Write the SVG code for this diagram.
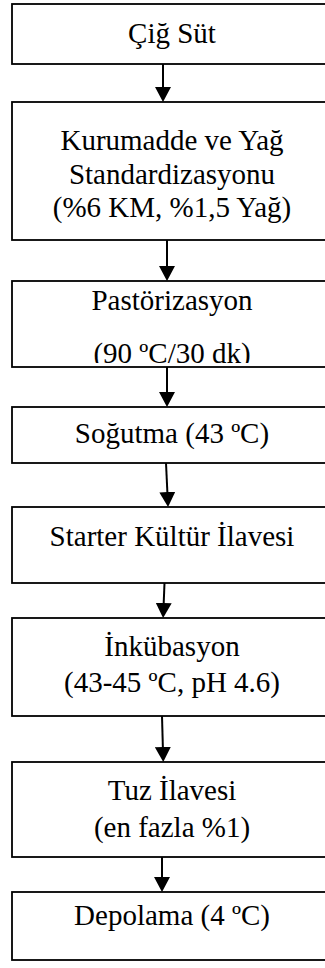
<svg xmlns="http://www.w3.org/2000/svg" width="325" height="968" viewBox="0 0 325 968">
<style>
.box{fill:#fff;stroke:#000;stroke-width:1.8}
.t{font-family:"Liberation Serif","Times New Roman",serif;font-size:29px;fill:#000;text-anchor:middle}
.c{stroke:#000;stroke-width:2;fill:none}
</style>
<defs>
<marker id="ah" viewBox="0 0 15 16" refX="5" refY="8" markerWidth="15" markerHeight="16" markerUnits="userSpaceOnUse" orient="auto">
<path d="M0,0 L15,8 L0,16 z" fill="#000"/>
</marker>
<clipPath id="clip3"><rect x="12" y="281" width="330" height="82"/></clipPath>
</defs>
<rect width="325" height="968" fill="#fff"/>
<g id="connectors">
<line class="c" x1="163" y1="64" x2="163" y2="92" marker-end="url(#ah)"/>
<line class="c" x1="167" y1="240" x2="167" y2="271" marker-end="url(#ah)"/>
<line class="c" x1="167" y1="367" x2="167" y2="397" marker-end="url(#ah)"/>
<line class="c" x1="166" y1="463" x2="167.6" y2="497" marker-end="url(#ah)"/>
<line class="c" x1="164.5" y1="583" x2="163.5" y2="608" marker-end="url(#ah)"/>
<line class="c" x1="162" y1="716" x2="163" y2="752" marker-end="url(#ah)"/>
<line class="c" x1="162" y1="857" x2="162" y2="882" marker-end="url(#ah)"/>
</g>
<g id="n1"><rect class="box" x="12" y="4" width="330" height="60"/><text class="t" x="172" y="43">Çiğ Süt</text></g>
<g id="n2"><rect class="box" x="12" y="102" width="330" height="138"/><text class="t" x="172" y="150">Kurumadde ve Yağ</text><text class="t" x="172" y="184">Standardizasyonu</text><text class="t" x="172" y="217">(%6 KM, %1,5 Yağ)</text></g>
<g id="n3"><rect class="box" x="12" y="281" width="330" height="86"/><g clip-path="url(#clip3)"><text class="t" x="172" y="310">Pastörizasyon</text><text class="t" x="172" y="362.5">(90 ºC/30 dk)</text></g></g>
<g id="n4"><rect class="box" x="12" y="407" width="330" height="56"/><text class="t" x="172" y="443">Soğutma (43 ºC)</text></g>
<g id="n5"><rect class="box" x="12" y="507" width="330" height="76"/><text class="t" x="172" y="546">Starter Kültür İlavesi</text></g>
<g id="n6"><rect class="box" x="12" y="618" width="330" height="98"/><text class="t" x="172" y="656">İnkübasyon</text><text class="t" x="172" y="692">(43-45 ºC, pH 4.6)</text></g>
<g id="n7"><rect class="box" x="12" y="762" width="330" height="95"/><text class="t" x="172" y="800">Tuz İlavesi</text><text class="t" x="172" y="837">(en fazla %1)</text></g>
<g id="n8"><rect class="box" x="12" y="892" width="330" height="68"/><text class="t" x="172" y="925">Depolama (4 ºC)</text></g>
</svg>
